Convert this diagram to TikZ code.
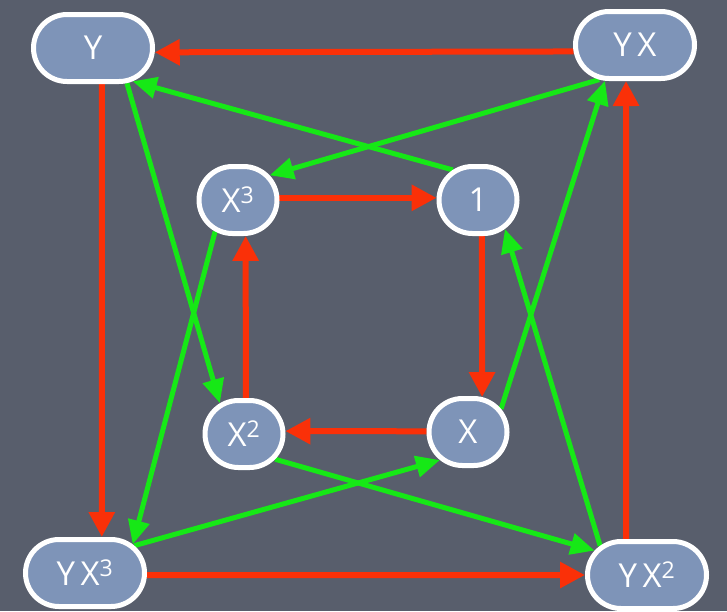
\documentclass[tikz,border=0pt]{standalone}
\usepackage{fontspec}
\setmainfont{Open Sans}
\usetikzlibrary{arrows.meta,shapes.misc}
\definecolor{bgcol}{RGB}{88,94,108}
\definecolor{nodefill}{RGB}{126,148,184}
\definecolor{redline}{RGB}{250,48,8}
\definecolor{greenline}{RGB}{22,232,22}
\pgfdeclarelayer{bglayer}
\pgfdeclarelayer{edgelayer}
\pgfsetlayers{bglayer,edgelayer,main}
\begin{document}
\begin{tikzpicture}[x=1pt,y=-1pt,
  vbox/.style={rounded rectangle, draw=white, line width=5pt, fill=nodefill,
    text=white, font=\fontsize{33}{33}\selectfont, minimum height=67pt, inner sep=0pt},
  bigbox/.style={vbox, minimum width=119pt},
  smallbox/.style={vbox, minimum width=78pt},
  redarrow/.style={draw=redline, line width=6pt, -{Triangle[length=25pt,width=25pt]}},
  greenarrow/.style={draw=greenline, line width=5pt, -{Triangle[length=24pt,width=21pt]}}
]
\begin{pgfonlayer}{bglayer}
\fill[bgcol] (0,0) rectangle (727,611);
\end{pgfonlayer}
\useasboundingbox (0,0) rectangle (727,611);

\node[bigbox] (Y) at (93,48) {Y};
\node[bigbox] (YX) at (635,45) {Y\,X};
\node[bigbox] (YX3) at (85,573) {Y\,X\textsuperscript{3}};
\node[bigbox] (YX2) at (647,575) {Y\,X\textsuperscript{2}};
\node[smallbox] (X3) at (238,200) {X\textsuperscript{3}};
\node[smallbox] (N1) at (478,200) {1};
\node[smallbox] (X2) at (244,434) {X\textsuperscript{2}};
\node[smallbox] (X) at (468,432) {X};

\begin{pgfonlayer}{edgelayer}
% red outer
\draw[redarrow] (YX.186) -- (Y.-4);
\draw[redarrow] (Y.-76) -- (YX3.65);
\draw[redarrow] (YX3.-2) -- (YX2.180);
\draw[redarrow] (YX2.120) -- (YX.-104);
% red inner
\draw[redarrow] (X3.3) -- (N1.177);
\draw[redarrow] (N1.-84) -- (X.68);
\draw[redarrow] (X.179) -- (X2.4);
\draw[redarrow] (X2.87) -- (X3.-78);
% green
\draw[greenarrow] (N1.130) -- (Y.-40);
\draw[greenarrow] (YX.-136) -- (X3.38);
\draw[greenarrow] (Y.-46) -- (X2.128);
\draw[greenarrow] (X3.-126) -- (YX3.31);
\draw[greenarrow] (X.35) -- (YX.-130);
\draw[greenarrow] (YX2.148) -- (N1.-47);
\draw[greenarrow] (X2.-39) -- (YX2.155);
\draw[greenarrow] (YX3.29) -- (X.-135);
\end{pgfonlayer}
\end{tikzpicture}
\end{document}
